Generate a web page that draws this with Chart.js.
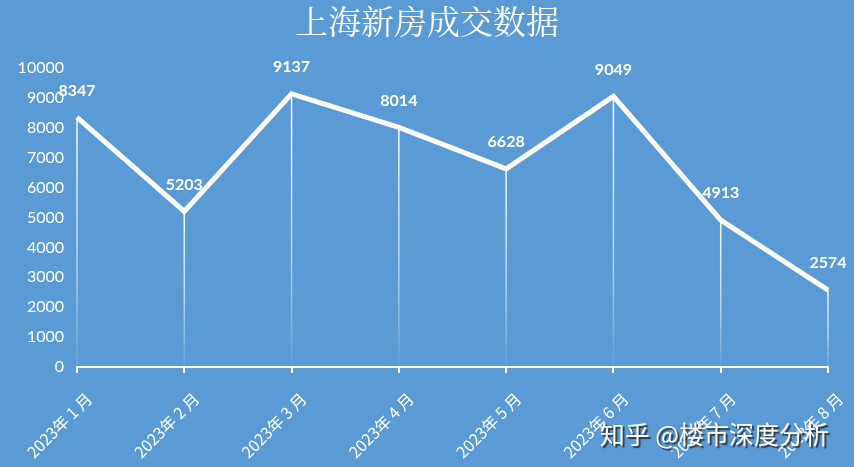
<!DOCTYPE html>
<html>
<head>
<meta charset="utf-8">
<script src="https://cdn.jsdelivr.net/npm/chart.js@4.4.0/dist/chart.umd.min.js"></script>
<style>
  html, body { margin: 0; padding: 0; background: #5B9BD5; }
  #wrap { width: 854px; height: 467px; }
</style>
</head>
<body>
<div id="wrap"><canvas id="houseChart" width="854" height="467"></canvas></div>
<script>
// 上海新房成交数据
const months = ['2023年1月', '2023年2月', '2023年3月', '2023年4月', '2023年5月', '2023年6月', '2023年7月', '2023年8月'];
const deals = [8347, 5203, 9137, 8014, 6628, 9049, 4913, 2574];
const titleText = '上海新房成交数据';
const watermark = '知乎 @楼市深度分析';

const bgColor = '#5B9BD5';

// fondo azul + titulo centrado en todo el lienzo
const bgPlugin = {
  id: 'bg',
  beforeDraw(chart) {
    const ctx = chart.ctx;
    ctx.save();
    ctx.fillStyle = bgColor;
    ctx.fillRect(0, 0, chart.width, chart.height);
    ctx.font = '33px "Noto Serif CJK SC", "Noto Sans CJK SC", serif';
    ctx.fillStyle = '#ffffff';
    ctx.textAlign = 'center';
    ctx.textBaseline = 'middle';
    ctx.fillText(titleText, chart.width / 2, 21);
    ctx.restore();
  }
};

// lineas verticales con degradado
const dropLines = {
  id: 'dropLines',
  beforeDatasetsDraw(chart) {
    const ctx = chart.ctx;
    const bottom = chart.chartArea.bottom;
    chart.getDatasetMeta(0).data.forEach(pt => {
      const g = ctx.createLinearGradient(0, pt.y, 0, bottom);
      g.addColorStop(0, 'rgba(255,255,255,0.95)');
      g.addColorStop(0.6, 'rgba(255,255,255,0.55)');
      g.addColorStop(1, 'rgba(255,255,255,0.05)');
      ctx.save();
      ctx.strokeStyle = g;
      ctx.lineWidth = 1.5;
      ctx.beginPath();
      ctx.moveTo(pt.x, pt.y);
      ctx.lineTo(pt.x, bottom);
      ctx.stroke();
      ctx.restore();
    });
  }
};

// etiquetas de valores
const valueLabels = {
  id: 'valueLabels',
  afterDatasetsDraw(chart) {
    const ctx = chart.ctx;
    const ds = chart.data.datasets[0];
    ctx.save();
    ctx.font = 'bold 16px Lato, "Open Sans", sans-serif';
    ctx.fillStyle = '#ffffff';
    ctx.textAlign = 'center';
    ctx.textBaseline = 'middle';
    chart.getDatasetMeta(0).data.forEach((pt, i) => {
      ctx.fillText(String(ds.data[i]), pt.x, pt.y - 27);
    });
    ctx.restore();
  }
};

// marca de agua
const markPlugin = {
  id: 'mark',
  afterDraw(chart) {
    const ctx = chart.ctx;
    ctx.save();
    ctx.font = '25px "Noto Sans CJK SC", sans-serif';
    ctx.textAlign = 'right';
    ctx.textBaseline = 'middle';
    ctx.shadowColor = 'rgba(40,40,40,0.85)';
    ctx.shadowOffsetX = 2;
    ctx.shadowOffsetY = 2;
    ctx.shadowBlur = 1;
    ctx.fillStyle = '#ffffff';
    ctx.fillText(watermark, 829, 434);
    ctx.restore();
  }
};

new Chart(document.getElementById('houseChart'), {
  type: 'line',
  data: {
    labels: months,
    datasets: [{
      label: titleText,
      data: deals,
      borderColor: '#ffffff',
      borderWidth: 5,
      borderJoinStyle: 'miter',
      borderCapStyle: 'butt',
      tension: 0,
      pointRadius: 0,
      pointHoverRadius: 0,
      fill: false
    }]
  },
  options: {
    responsive: false,
    animation: false,
    devicePixelRatio: 1,
    layout: { padding: { top: 68, right: 26, left: 0, bottom: 0 } },
    plugins: {
      legend: { display: false },
      tooltip: { enabled: false },
      title: { display: false }
    },
    scales: {
      x: {
        grid: {
          display: true,
          drawOnChartArea: false,
          drawTicks: true,
          tickLength: 6,
          color: '#ffffff',
          lineWidth: 2
        },
        border: { display: true, color: '#ffffff', width: 2 },
        ticks: {
          color: '#ffffff',
          font: { family: '"Noto Sans CJK SC", sans-serif', size: 16 },
          minRotation: 45,
          maxRotation: 45,
          padding: 16,
          labelOffset: 12,
          // Excel deja espacios alrededor del número del mes
          callback: function (v) {
            return this.getLabelForValue(v).replace(/年(\d+)月/, '年 $1 月');
          }
        },
        afterFit(scale) {
          scale.height = 100;
          scale.paddingRight = 0;
        }
      },
      y: {
        min: 0,
        max: 10000,
        grid: { display: false, drawTicks: false },
        border: { display: false },
        ticks: {
          stepSize: 1000,
          color: '#ffffff',
          font: { family: 'Lato, "Open Sans", sans-serif', size: 16 },
          padding: 13,
          callback: v => String(v)
        },
        afterFit(scale) { scale.width = 77; }
      }
    }
  },
  plugins: [bgPlugin, dropLines, valueLabels, markPlugin]
});
</script>
</body>
</html>
